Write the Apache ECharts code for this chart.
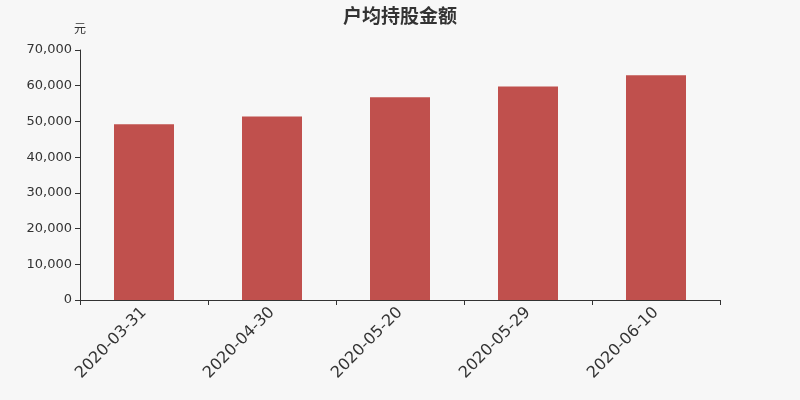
<!DOCTYPE html>
<html>
<head>
<meta charset="utf-8">
<script src="https://cdn.jsdelivr.net/npm/echarts@6/dist/echarts.min.js"></script>
<style>
    html, body {margin: 0; padding: 0; background: #f7f7f7;}
    #chartDiv {width: 800px; height: 400px;}
</style>
</head>
<body>
<div id="chartDiv"></div>
<script>
// 日期与户均持股金额(元)
var dates = ["2020-03-31", "2020-04-30", "2020-05-20", "2020-05-29", "2020-06-10"];
var amounts = [49200, 51400, 56800, 59800, 62900];
var yTicks = [0, 10000, 20000, 30000, 40000, 50000, 60000, 70000];

var chart = echarts.init(document.getElementById("chartDiv"));

var option = {
    backgroundColor: '#f7f7f7',
    animation: false,
    title: {
        text: '户均持股金额',
        left: 'center',
        top: 1,
        textStyle: {
            fontSize: 19,
            fontWeight: 'bold',
            color: '#333',
            fontFamily: 'Noto Sans CJK SC'
        }
    },
    grid: {
        left: 80,
        right: 80,
        top: 50,
        bottom: 100
    },
    xAxis: {
        type: 'category',
        data: dates,
        axisLine: {lineStyle: {color: '#333'}},
        axisTick: {show: true, length: 5, lineStyle: {color: '#333'}},
        axisLabel: {
            rotate: 45,
            fontSize: 16,
            color: '#333',
            margin: 10,
            fontFamily: 'DejaVu Sans'
        }
    },
    yAxis: {
        type: 'value',
        name: '元',
        nameGap: 16,
        nameTextStyle: {color: '#333', fontSize: 12, align: 'center', fontFamily: 'Noto Sans CJK SC'},
        min: yTicks[0],
        max: yTicks[yTicks.length - 1],
        interval: 10000,
        splitLine: {show: false},
        axisLine: {show: true, lineStyle: {color: '#333'}},
        axisTick: {show: true, length: 5, lineStyle: {color: '#333'}},
        axisLabel: {
            color: '#333',
            fontSize: 13,
            margin: 8,
            fontFamily: 'DejaVu Sans',
            formatter: function (v) {
                return v.toLocaleString('en-US');
            }
        }
    },
    series: [
        {
            type: 'bar',
            data: amounts,
            barWidth: 60,
            itemStyle: {color: '#c0504d'}
        }
    ]
};
chart.setOption(option);
</script>
</body>
</html>
